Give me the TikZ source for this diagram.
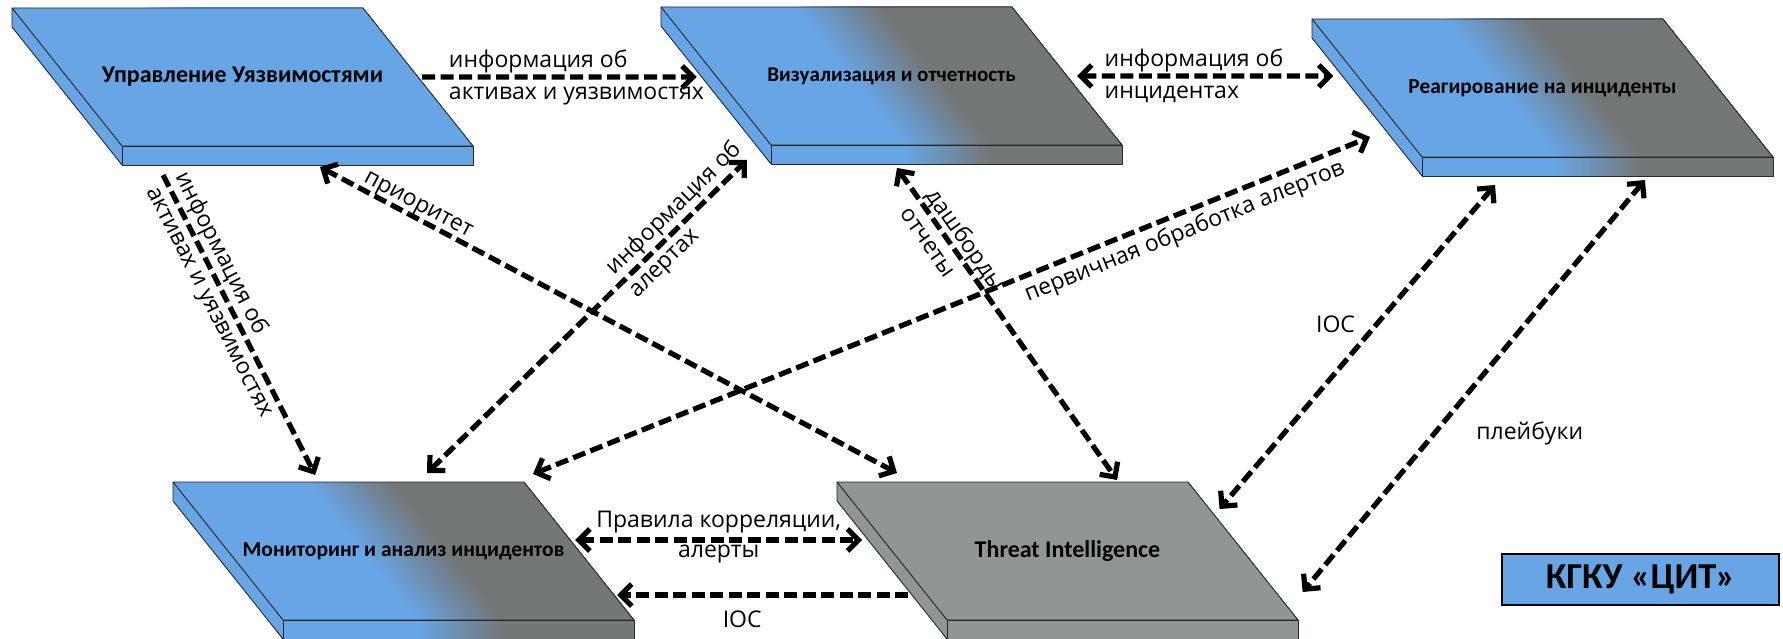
\documentclass[tikz,border=0pt]{standalone}
\usepackage{fontspec}
\setmainfont{Open Sans}
\newfontfamily\carlito{Carlito}
\usetikzlibrary{arrows.meta,calc}

\definecolor{slabblue}{RGB}{104,165,228}
\definecolor{slabgrey}{RGB}{116,119,120}
\definecolor{tigrey}{RGB}{143,150,149}

\tikzset{
  slabline/.style={draw=black!85,line width=0.9pt,line join=round},
  slabtext/.style={font=\carlito\bfseries\fontsize{#1}{#1}\selectfont,inner sep=0pt},
  flow/.style={line width=5.2pt,dash pattern=on 13pt off 5.5pt},
  lbl/.style={font=\fontsize{23}{28}\selectfont,inner sep=1pt},
  cit/.style={draw=black,line width=2.5pt,fill=slabblue,minimum width=277pt,minimum height=51pt,inner sep=0pt,
    font=\carlito\bfseries\fontsize{36.5}{42}\selectfont},
  >={Straight Barb[length=11pt,width=22pt]},
}

% sizes of a slab: width, skew, depth, thickness
\newcommand\slabW{351}
\newcommand\slabD{110}
\newcommand\slabH{138}
\newcommand\slabT{19}

% slab: name, x, y of the back left corner, left colour, right colour, title, title size
\newcommand{\slab}[7]{%
\begin{scope}[shift={(#2,-#3)}]
\coordinate (#1-nw) at (0,0);\coordinate (#1-ne) at (\slabW,0);
\coordinate (#1-sw) at (\slabD,-\slabH);\coordinate (#1-se) at (\slabW+\slabD,-\slabH);
\coordinate (#1-bsw) at (\slabD,-\slabH-\slabT);\coordinate (#1-bse) at (\slabW+\slabD,-\slabH-\slabT);
\fill[#4] (#1-nw)--(#1-ne)--(#1-se)--(#1-bse)--(#1-bsw)--(0,-\slabT)--cycle;
\foreach \k in {0,...,24}{
  \pgfmathsetmacro\cut{(0.38+0.01*\k)*\slabW}
  \pgfmathtruncatemacro\mix{round(\k*100/24)}
  \fill[#5!\mix!#4] (\cut,0)--(#1-ne)--(#1-se)--(#1-bse)--(\cut+\slabD,-\slabH-\slabT)--(\cut+\slabD,-\slabH)--cycle;
}
\draw[slabline] (#1-nw)--(#1-ne)--(#1-se)--(#1-sw)--cycle;
\draw[slabline] (#1-sw)--(#1-se)--(#1-bse)--(#1-bsw)--cycle;
\draw[slabline] (#1-nw)--(0,-\slabT)--(#1-bsw);
\node[slabtext=#7] (#1) at ({(\slabW+\slabD)/2},{-\slabH/2}) {#6};
\end{scope}}

\begin{document}
\begin{tikzpicture}[x=1pt,y=1pt]
\useasboundingbox (0,0) rectangle (1783,-639);
\slab{uv}{12}{8}{slabblue}{slabblue}{Управление Уязвимостями}{24}
\slab{viz}{661}{7}{slabblue}{slabgrey}{Визуализация и отчетность}{21}
\slab{ir}{1312}{19}{slabblue}{slabgrey}{Реагирование на инциденты}{21.4}
\slab{mon}{173}{482}{slabblue}{slabgrey}{Мониторинг и анализ инцидентов}{21.5}
\slab{ti}{837}{482}{tigrey}{tigrey}{Threat Intelligence}{24}
\node[cit] (cit) at (1640.5,-579.5) {КГКУ «ЦИТ»};

% top row
\draw[flow,->] ($(uv-ne)!.5!(uv-se)+(4,0)$) -- ($(viz-nw)!.507!(viz-sw)+(-20,0)$)
  node[lbl,pos=.085,anchor=west,align=left] {информация об\\[4pt]активах и уязвимостях};
\draw[flow,<->] ($(viz-ne)!.5!(viz-se)+(10,0)$) -- ($(ir-nw)!.413!(ir-sw)+(-24,0)$)
  node[lbl,pos=.094,anchor=west,align=left] {информация об\\[4pt]инцидентах};

% diagonals
\draw[flow,->] ($(uv-bsw)!.117!(uv-bse)+(0,-10)$) -- ($(mon-nw)!.405!(mon-ne)+(0,7)$)
  node[lbl,sloped,pos=.01,anchor=west,align=left] {информация об\\[4pt]активах и уязвимостях};
\draw[flow,<->] ($(uv-bsw)!.564!(uv-bse)+(0,-2)$) -- ($(ti-nw)!.171!(ti-ne)+(0,9)$)
  node[lbl,sloped,pos=.16,above=-2pt] {приоритет};
\draw[flow,<->] ($(mon-nw)!.724!(mon-ne)+(0,9)$) -- ($(viz-bsw)+(-24,4)$)
  node[lbl,sloped,pos=.6,anchor=west,align=left] {информация об\\[4pt]алертах};
\draw[flow,<->] ($(viz-bsw)!.359!(viz-bse)+(0,-4)$) -- ($(ti-nw)!.798!(ti-ne)+(0,2)$)
  node[lbl,sloped,pos=.092,anchor=west,align=left] {дашборды\\[4pt]отчеты};
\draw[flow,<->] ($(mon-ne)+(9,8)$) -- ($(ir-nw)!.855!(ir-sw)+(-36,0)$)
  node[lbl,sloped,pos=.77,below=4pt] {первичная обработка алертов};
\draw[flow,<->] ($(ir-bsw)!.208!(ir-bse)+(0,-9)$) -- ($(ti-ne)!.196!(ti-se)+(10,0)$)
  node[lbl,pos=.43,left=18pt] {IOC};
\draw[flow,<->] ($(ir-bsw)!.635!(ir-bse)+(0,-4)$) -- ($(ti-ne)!.797!(ti-se)+(27,0)$)
  node[lbl,pos=.614,right=38pt] {плейбуки};

% bottom row
\draw[flow,<->] ($(mon-ne)!.42!(mon-se)+(5,0)$) -- ($(ti-nw)!.42!(ti-sw)+(-21,0)$)
  node[lbl,pos=.5,yshift=2.5pt,align=center] {Правила корреляции,\\[2pt]алерты};
\draw[flow,->] ($(ti-nw)!.819!(ti-sw)+(-19,0)$) -- ($(mon-ne)!.819!(mon-se)+(3,0)$)
  node[lbl,pos=.57,below=12pt] {IOC};
\end{tikzpicture}
\end{document}
